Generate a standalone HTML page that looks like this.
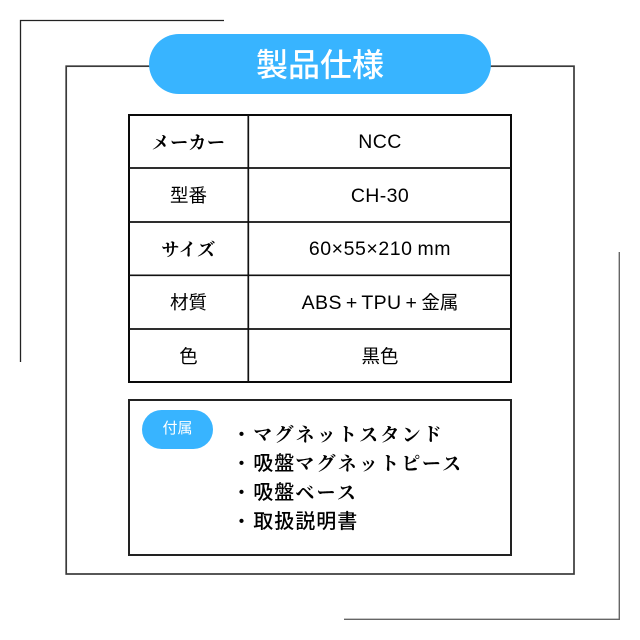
<!DOCTYPE html>
<html lang="ja"><head><meta charset="utf-8">
<style>
html,body{margin:0;padding:0;background:#fff}
#c{position:relative;width:640px;height:640px;overflow:hidden;background:#fff}
#c>div{position:absolute;box-sizing:border-box}
svg{position:absolute;left:0;top:0}
.t{white-space:nowrap;text-align:center;color:#000;font-family:"Liberation Sans","Noto Sans CJK JP",sans-serif;font-size:18.5px;line-height:24px}
.v{font-size:19.5px;letter-spacing:.4px}
.v span{font-size:18.5px;letter-spacing:0}
.s{font-family:"Noto Serif CJK JP","Noto Serif CJK SC",serif;font-weight:700;white-space:nowrap;color:#000}
.r{left:232px;font-size:19px;line-height:29px;height:29px;letter-spacing:2.25px}
.h{font-family:"Noto Sans CJK JP",sans-serif;font-weight:500;letter-spacing:1px;font-size:20px;line-height:20px}
</style></head><body><div id="c">
<svg width="640" height="640" viewBox="0 0 640 640" fill="none">
<path d="M224 20.5H20.5V362" stroke="#222" stroke-width="1.3"/>
<path d="M619.3 252V619.3H344" stroke="#666" stroke-width="1.4"/>
<rect x="66.2" y="66.2" width="507.8" height="507.8" stroke="#3a3a3a" stroke-width="1.7"/>
<rect x="129" y="115" width="382" height="267" stroke="#0a0a0a" stroke-width="2"/>
<path d="M248.3 115V382M129 168H511M129 222H511M129 275.3H511M129 329H511" stroke="#111" stroke-width="1.7"/>
<rect x="129" y="400" width="382" height="155" stroke="#222" stroke-width="2"/>
</svg>
<div style="left:149px;top:33.5px;width:342px;height:60.5px;border-radius:30px;background:#38b4ff"></div>
<div class="t" style="left:149px;top:45px;width:342px;color:#fff;font-size:32px;line-height:40px;font-weight:500">製品仕様</div>

<div class="t s" style="left:129px;top:130px;width:119px;font-size:18px;letter-spacing:.6px">メーカー</div>
<div class="t" style="left:129px;top:184px;width:119px">型番</div>
<div class="t s" style="left:129px;top:237px;width:119px;font-size:18px;letter-spacing:.6px">サイズ</div>
<div class="t" style="left:129px;top:291px;width:119px">材質</div>
<div class="t" style="left:129px;top:345px;width:119px">色</div>

<div class="t v" style="left:249px;top:130px;width:262px">NCC</div>
<div class="t v" style="left:249px;top:184px;width:262px">CH-30</div>
<div class="t v" style="left:249px;top:237px;width:262px;letter-spacing:.55px;word-spacing:-1px">60×55×210 mm</div>
<div class="t v" style="left:249px;top:291px;width:262px;word-spacing:-1.8px">ABS + TPU + <span>金属</span></div>
<div class="t v" style="left:249px;top:345px;width:262px"><span>黒色</span></div>

<div style="left:142px;top:410px;width:71px;height:39px;border-radius:19.5px;background:#38b4ff"></div>
<div class="t" style="left:142px;top:418px;width:71px;color:#fff;font-size:15px;line-height:22px">付属</div>

<div class="s r" style="top:419px">・マグネットスタンド</div>
<div class="s r" style="top:448px">・<span class="h">吸盤</span>マグネットピース</div>
<div class="s r" style="top:477px">・<span class="h">吸盤</span>ベース</div>
<div class="s r" style="top:506px">・<span class="h">取扱説明書</span></div>
</div></body></html>
